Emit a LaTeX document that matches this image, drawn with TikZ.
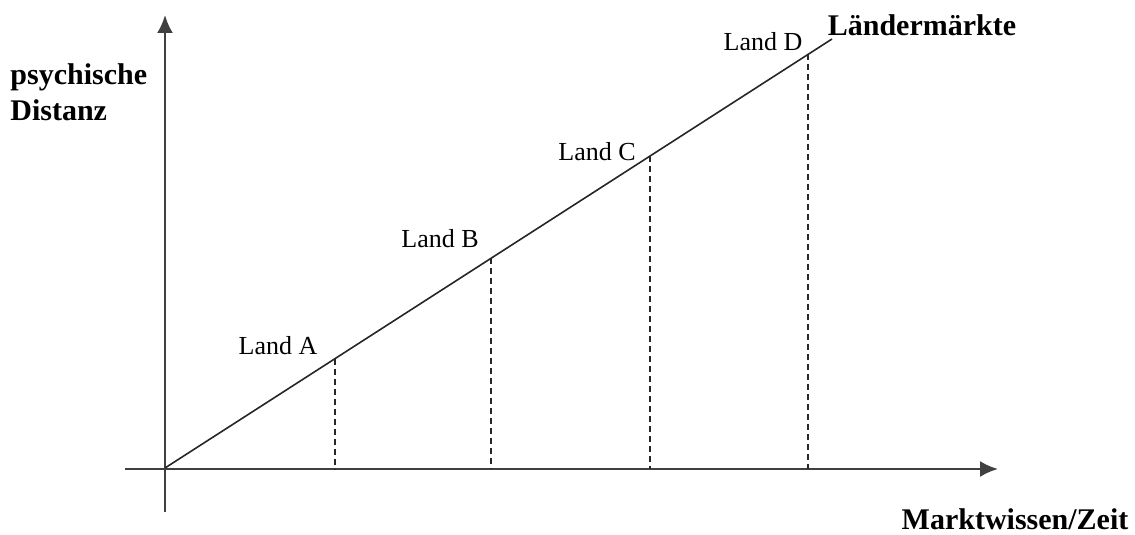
\documentclass[tikz,border=0pt]{standalone}
\usepackage{fontspec}
\setmainfont{Liberation Serif}
\usetikzlibrary{arrows.meta,calc}
\begin{document}
\begin{tikzpicture}[x=0.5pt, y=0.5pt, >={Latex[length=9pt,width=8pt]},
      axis/.style={draw=black!75, line width=1.2pt},
      curve/.style={draw=black!85, line width=0.8pt},
      drop/.style={draw=black!85, line width=0.8pt, dash pattern=on 3pt off 2pt},
      lbl/.style={font=\fontsize{13}{15}\selectfont, inner sep=0pt},
      ttl/.style={font=\fontsize{15}{18}\selectfont\bfseries, inner sep=0pt, align=left}]
    \useasboundingbox (0,0) rectangle (1135,535);
    \coordinate (origin) at (165,67);
    \coordinate (ytop) at (165,520);
    \coordinate (ybot) at (165,23);
    \coordinate (xleft) at (125,66);
    \coordinate (xright) at (998,66);
    \coordinate (lineend) at (832,496);
    \draw[axis, ->] (ybot) -- (ytop);
    \draw[axis, ->] (xleft) -- (xright);
    \draw[curve] (origin) -- (lineend);
    \foreach \t/\n in {0.255/A, 0.489/B, 0.727/C, 0.964/D} {
      \coordinate (land\n) at ($(origin)!\t!(lineend)$);
      \draw[drop] (land\n) -- (land\n |- xleft);
    }
    \node[lbl] (labA) at (278,189) {Land A};
    \node[lbl] (labB) at (440,296) {Land B};
    \node[lbl] (labC) at (597,383) {Land C};
    \node[lbl] (labD) at (763,493) {Land D};
    \node[ttl] (markets) at (922,510) {Ländermärkte};
    \node[ttl, anchor=west] (ylabel) at (10,443) {psychische\\Distanz};
    \node[ttl] (xlabel) at (1015,16) {Marktwissen/Zeit};
\end{tikzpicture}
\end{document}
